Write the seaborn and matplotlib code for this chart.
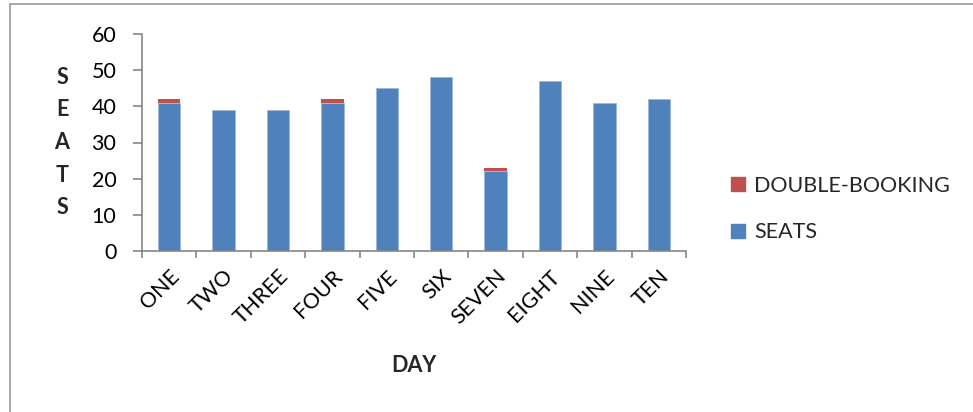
import matplotlib
matplotlib.use("Agg")
import matplotlib.pyplot as plt
from matplotlib.patches import Rectangle, Patch
import seaborn as sns
import pandas as pd
import numpy as np

days = ["ONE", "TWO", "THREE", "FOUR", "FIVE", "SIX", "SEVEN", "EIGHT", "NINE", "TEN"]
seats = [41, 39, 39, 41, 45, 48, 22, 47, 41, 42]
double_booking = [1, 0, 0, 1, 0, 0, 1, 0, 0, 0]

sns.set_theme(style="white")
plt.rcParams["font.family"] = ["Lato", "DejaVu Sans"]

BLUE = "#4F81BD"
RED = "#C0504D"
AXIS_GREY = "#868686"
FS = 15.5

df = pd.DataFrame({"day": days, "seats": seats, "double": double_booking})

fig = plt.figure(figsize=(9.73, 4.12), dpi=100)
ax = fig.add_axes([142 / 973, 1 - 251 / 412, (686 - 142) / 973, (251 - 34) / 412])

sns.barplot(data=df, x="day", y="seats", color=BLUE, saturation=1, width=0.41,
            edgecolor="#9bb8dc", linewidth=0.6, ax=ax)
sns.barplot(data=df, x="day", y="double", color=RED, saturation=1, width=0.41,
            bottom=df["seats"].to_numpy(), linewidth=0, ax=ax)

ax.set_xlim(-0.5, len(days) - 0.5)
ax.set_ylim(0, 60)
ax.set_yticks(np.arange(0, 61, 10))

for side in ["top", "right"]:
    ax.spines[side].set_visible(False)
for side in ["left", "bottom"]:
    ax.spines[side].set_color(AXIS_GREY)
    ax.spines[side].set_linewidth(1.2)

ax.tick_params(axis="y", which="major", left=True, length=6.5, width=1.2, color=AXIS_GREY,
               labelsize=FS, labelcolor="black", pad=12)
ax.set_xticks(np.arange(len(days)))
ax.set_xticklabels(days, rotation=45, ha="right", rotation_mode="anchor")
ax.tick_params(axis="x", which="major", bottom=False, length=0, labelsize=FS,
               labelcolor="black", pad=11)
ax.set_xticks(np.arange(-0.5, len(days), 1.0), minor=True)
ax.tick_params(axis="x", which="minor", bottom=True, length=5, width=1.2, color=AXIS_GREY)

ax.set_xlabel("DAY", fontsize=FS, fontweight="bold")
ax.xaxis.set_label_coords(0.5, -(366 - 251) / 217, transform=ax.transAxes)
ax.xaxis.label.set_va("center")
ax.set_ylabel("S\nE\nA\nT\nS", fontsize=FS, fontweight="bold", rotation=0,
              linespacing=1.68, va="center", ha="center")
ax.yaxis.set_label_coords(-(142 - 62) / 544, 0.5)

handles = [Patch(facecolor=RED, edgecolor=RED), Patch(facecolor=BLUE, edgecolor=BLUE)]
fig.legend(handles, ["DOUBLE-BOOKING", "SEATS"], loc="center left",
           bbox_to_anchor=(712 / 973, 1 - 209 / 412), frameon=False, fontsize=FS,
           handlelength=0.65, handleheight=0.65, handletextpad=0.4, labelspacing=1.25)

fig.patches.append(Rectangle((10 / 973, -0.02), 1.0, 1 - 4 / 412 + 0.02,
                             transform=fig.transFigure, fill=False,
                             edgecolor="#9a9a9a", linewidth=1.2))

fig.savefig("out.png", dpi=100, facecolor="white")
